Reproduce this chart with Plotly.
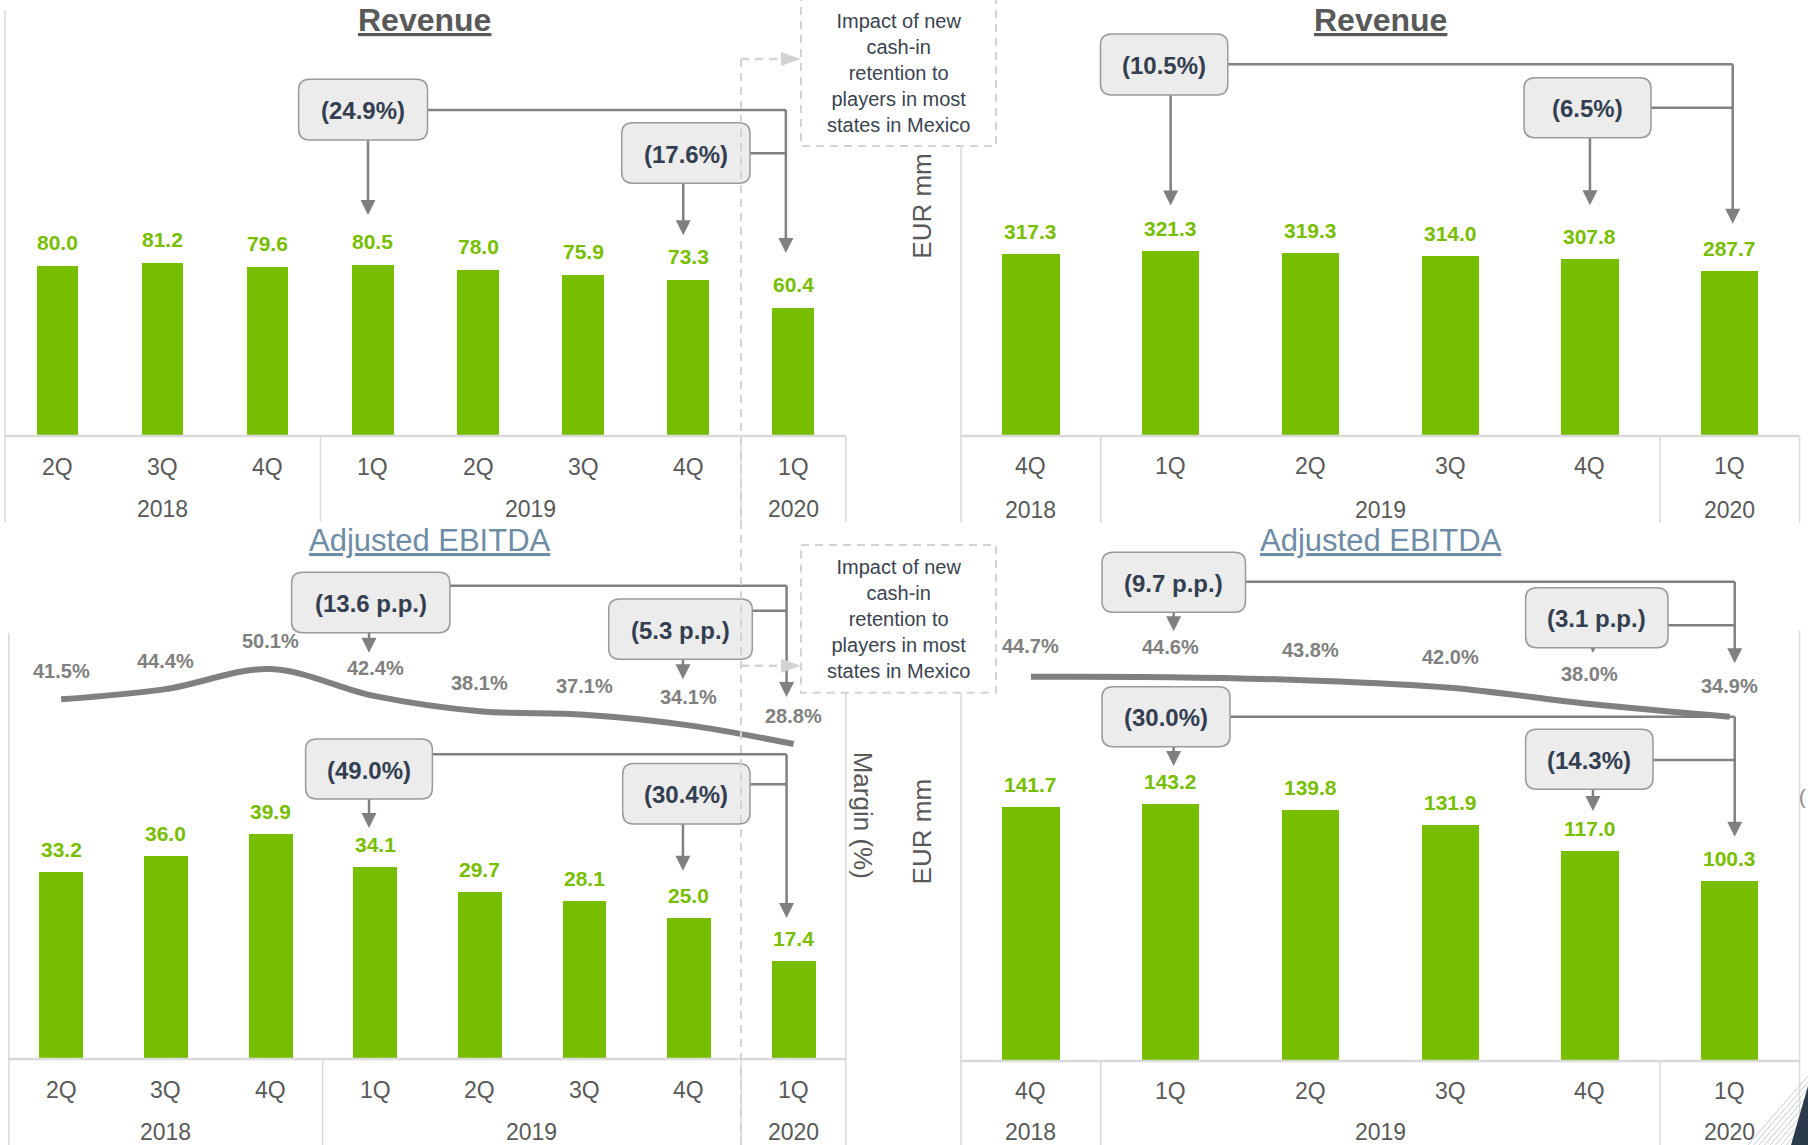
import plotly.graph_objects as go

W, H = 1808, 1145
FONT = "Liberation Sans, Arial, Helvetica, sans-serif"
GREEN = "#78BE00"
GREY_LINE = "#808080"
LIGHT = "#D9D9D9"
DASHED = "#D3D3D3"
TEXT = "#595959"
BOX_TEXT = "#333F50"
NOTE_TEXT = "#3A4350"
TITLE_BLUE = "#6E8CA6"

# ---------------- data ----------------
q_labels = ["2Q", "3Q", "4Q", "1Q", "2Q", "3Q", "4Q", "1Q"]
q_years = [("2018", 0, 2), ("2019", 3, 6), ("2020", 7, 7)]
q_revenue = [80.0, 81.2, 79.6, 80.5, 78.0, 75.9, 73.3, 60.4]
q_ebitda = [33.2, 36.0, 39.9, 34.1, 29.7, 28.1, 25.0, 17.4]
q_margin = [41.5, 44.4, 50.1, 42.4, 38.1, 37.1, 34.1, 28.8]

ltm_labels = ["4Q", "1Q", "2Q", "3Q", "4Q", "1Q"]
ltm_years = [("2018", 0, 0), ("2019", 1, 4), ("2020", 5, 5)]
ltm_revenue = [317.3, 321.3, 319.3, 314.0, 307.8, 287.7]
ltm_ebitda = [141.7, 143.2, 139.8, 131.9, 117.0, 100.3]
ltm_margin = [44.7, 44.6, 43.8, 42.0, 38.0, 34.9]

q_revenue_change = ["(24.9%)", "(17.6%)"]
q_ebitda_change = ["(49.0%)", "(30.4%)"]
q_margin_change = ["(13.6 p.p.)", "(5.3 p.p.)"]
ltm_revenue_change = ["(10.5%)", "(6.5%)"]
ltm_ebitda_change = ["(30.0%)", "(14.3%)"]
ltm_margin_change = ["(9.7 p.p.)", "(3.1 p.p.)"]

note_text = "Impact of new<br>cash-in<br>retention to<br>players in most<br>states in Mexico"


def PX(x):
    return x / W


def PY(y):
    return 1 - y / H


# ---------------- panel geometry (pixels) ----------------
class Panel:
    def __init__(self, xa, ya, left, right, base, top, ymax, n, mrange=None, ma=None, dx=0):
        self.xa, self.ya = xa, ya
        self.left, self.right, self.base, self.top = left, right, base, top
        self.ymax, self.n, self.mrange, self.ma, self.dx = ymax, n, mrange, ma, dx

    def x(self, i):
        return self.left + (i + 0.5) * (self.right - self.left) / self.n

    def edge(self, b):
        return self.left + b * (self.right - self.left) / self.n

    def y(self, v):
        return self.base - v * (self.base - self.top) / self.ymax

    def ym(self, m):
        lo, hi = self.mrange
        return self.base - (m - lo) * (self.base - self.top) / (hi - lo)


TL = Panel("x", "y", 5.15, 845.9, 436, 0, 205.2, 8, dx=-5)
TR = Panel("x2", "y2", 961, 1799.6, 436, 0, 758.8, 6, dx=0)
BL = Panel("x3", "y3", 8.8, 845.9, 1059, 525, 94.85, 8, mrange=(-60.68, 91.02), ma="y5", dx=-6)
BR = Panel("x4", "y4", 961, 1799.6, 1061, 525, 299.1, 6, mrange=(-49.49, 81.89), ma="y6", dx=3)

fig = go.Figure()
shapes = []
annotations = []


def line(x0, y0, x1, y1, color=LIGHT, width=1.5, dash=None):
    d = dict(type="line", xref="paper", yref="paper", x0=PX(x0), y0=PY(y0), x1=PX(x1), y1=PY(y1),
             line=dict(color=color, width=width))
    if dash:
        d["line"]["dash"] = dash
    shapes.append(d)


def poly(points, color):
    path = "M " + " L ".join("{:.5f},{:.5f}".format(PX(x), PY(y)) for x, y in points) + " Z"
    shapes.append(dict(type="path", xref="paper", yref="paper", path=path,
                       fillcolor=color, line=dict(width=0)))


def tri_down(x, y, w=15, h=15, color=GREY_LINE):
    poly([(x, y), (x - w / 2, y - h), (x + w / 2, y - h)], color)


def tri_right(x, y, w=14, h=20, color=DASHED):
    poly([(x, y), (x - h, y - w / 2), (x - h, y + w / 2)], color)


def rrect(l, t, r, b, rad=11):
    def P(x, y):
        return "{:.5f},{:.5f}".format(PX(x), PY(y))
    path = ("M " + P(l + rad, t) + " L " + P(r - rad, t) + " Q " + P(r, t) + " " + P(r, t + rad) +
            " L " + P(r, b - rad) + " Q " + P(r, b) + " " + P(r - rad, b) +
            " L " + P(l + rad, b) + " Q " + P(l, b) + " " + P(l, b - rad) +
            " L " + P(l, t + rad) + " Q " + P(l, t) + " " + P(l + rad, t) + " Z")
    return dict(type="path", xref="paper", yref="paper", path=path,
                fillcolor="#ECECEC", line=dict(color="#9A9A9A", width=1.5))


def text(x, y, s, size, color, bold=False, angle=0, xanchor="center"):
    annotations.append(dict(x=PX(x), y=PY(y), xref="paper", yref="paper", text=("<b>%s</b>" % s) if bold else s,
                            showarrow=False, xanchor=xanchor, yanchor="middle", textangle=angle,
                            font=dict(family=FONT, size=size, color=color)))


# ---------------- bar traces ----------------
def add_bars(p, values, width):
    fig.add_trace(go.Bar(x=list(range(len(values))), y=values, xaxis=p.xa, yaxis=p.ya, width=width,
                         marker=dict(color=GREEN, line=dict(width=0)), hoverinfo="skip"))
    for i, v in enumerate(values):
        annotations.append(dict(x=i, y=v, xref=p.xa, yref=p.ya, text="<b>%.1f</b>" % v, showarrow=False,
                                yanchor="middle", yshift=23.5 if p is TL else 22.5,
                                font=dict(family=FONT, size=21, color=GREEN)))


add_bars(TL, q_revenue, 0.395)
add_bars(TR, ltm_revenue, 0.41)
add_bars(BL, q_ebitda, 0.42)
add_bars(BR, ltm_ebitda, 0.41)


def add_margin(p, values, shift):
    fig.add_trace(go.Scatter(x=list(range(len(values))), y=values, xaxis=p.xa, yaxis=p.ma, mode="lines",
                             line=dict(shape="spline", smoothing=1.0, width=6, color=GREY_LINE),
                             hoverinfo="skip"))
    for i, m in enumerate(values):
        annotations.append(dict(x=i, y=m, xref=p.xa, yref=p.ma, text="<b>%.1f%%</b>" % m, showarrow=False,
                                yanchor="middle", yshift=shift,
                                font=dict(family=FONT, size=20, color=GREY_LINE)))


add_margin(BL, q_margin, 28.5)
add_margin(BR, ltm_margin, 30.5)


# ---------------- category axis labels & frame ----------------
def add_axis(p, labels, years, qy, yy, axis_y, left_top, right_top):
    for i, s in enumerate(labels):
        annotations.append(dict(x=i, y=PY(qy), xref=p.xa, yref="paper", text=s, showarrow=False,
                                yanchor="middle", font=dict(family=FONT, size=23, color=TEXT)))
    for s, a, b in years:
        annotations.append(dict(x=(a + b) / 2, y=PY(yy), xref=p.xa, yref="paper", text=s, showarrow=False,
                                yanchor="middle", font=dict(family=FONT, size=23, color=TEXT)))
    line(p.left, axis_y, p.right, axis_y, width=2.5)
    bottom = yy + 13 if axis_y < 600 else H
    for k, (s, a, b) in enumerate(years):
        if k > 0:
            line(p.edge(a), axis_y, p.edge(a), bottom)
    line(p.left, left_top, p.left, bottom)
    line(p.right, right_top, p.right, bottom)


add_axis(TL, q_labels, q_years, 466.5, 509, 436, 10, 436)
add_axis(TR, ltm_labels, ltm_years, 466, 509.5, 436, 146, 436)
add_axis(BL, q_labels, q_years, 1090, 1131.5, 1059, 633, 692.7)
add_axis(BR, ltm_labels, ltm_years, 1091, 1131.5, 1061, 692.7, 630)


# ---------------- change callouts ----------------
def add_callouts(p, labels, values, use_margin, boxes, rows, gaps, final_gap, bdx, targets):
    ymap = p.ym if use_margin else p.y
    last = len(values) - 1
    # bracket to the latest quarter
    bx = p.x(last) + bdx
    tip_last = ymap(values[last]) - final_gap
    for (l, t, r, b), ry in zip(boxes, rows):
        line(r, ry, bx, ry, color=GREY_LINE, width=2.5)
    line(bx, min(rows), bx, tip_last - 14, color=GREY_LINE, width=2.5)
    tri_down(bx, tip_last)
    # direct arrows from each box
    for (l, t, r, b), tgt, g in zip(boxes, targets, gaps):
        ax = p.x(tgt) + p.dx
        tp = ymap(values[tgt]) - g
        if tp - 14 > b:
            line(ax, b, ax, tp - 14, color=GREY_LINE, width=2.5)
        tri_down(ax, tp)
    for (l, t, r, b), s in zip(boxes, labels):
        shapes.append(rrect(l, t, r, b))
        text((l + r) / 2, (t + b) / 2 + 1, s, 24, BOX_TEXT, bold=True)


add_callouts(TL, q_revenue_change, q_revenue, False,
             [(298.6, 79.3, 427.5, 140.0), (621.7, 122.7, 750.0, 183.3)], [110, 153.3],
             [50, 45], 54.7, -7.5, [3, 6])
add_callouts(TR, ltm_revenue_change, ltm_revenue, False,
             [(1100.5, 34, 1227.8, 95), (1524, 77.7, 1651, 137.7)], [64.3, 107.7],
             [46, 54], 47, 3, [1, 4])
add_callouts(BL, q_margin_change, q_margin, True,
             [(291.6, 572.3, 449.9, 632.7), (608.7, 599, 752.3, 659.3)], [585.7, 610.7],
             [43.5, 46], 47, -7, [3, 6])
add_callouts(BL, q_ebitda_change, q_ebitda, False,
             [(305.6, 739, 432.4, 799), (622.7, 763.5, 750, 824)], [754.3, 784.3],
             [39, 47.6], 43, -7, [3, 6])
add_callouts(BR, ltm_margin_change, ltm_margin, True,
             [(1102, 552.3, 1245.5, 612.3), (1525.6, 587.7, 1668, 647.7)], [581.7, 625.3],
             [46, 51], 53.4, 5, [1, 4])
add_callouts(BR, ltm_ebitda_change, ltm_ebitda, False,
             [(1102, 686.7, 1230, 746.7), (1525.6, 729.3, 1653, 789.3)], [716.7, 760],
             [38.4, 40.3], 44.6, 5, [1, 4])

# ---------------- note boxes (dashed) ----------------
DASH = "8px,6px"
line(741, 59, 741, H, color=DASHED, width=2, dash=DASH)
for (t, b, ay) in [(-5, 146, 59), (545, 692.7, 665.7)]:
    shapes.append(dict(type="rect", xref="paper", yref="paper", x0=PX(801), x1=PX(996), y0=PY(t), y1=PY(b),
                       line=dict(color=DASHED, width=2, dash=DASH), fillcolor="rgba(0,0,0,0)"))
    line(741, ay, 782, ay, color=DASHED, width=2.5, dash=DASH)
    tri_right(801, ay)
    text(898.5, (t + b) / 2 + (0 if t > 0 else 2.5), note_text, 20, NOTE_TEXT)

# ---------------- titles & axis titles ----------------
text(TL.left + (TL.right - TL.left) / 2 - 1, 19.6, "<u>Revenue</u>", 32, TEXT, bold=True)
text(TR.left + (TR.right - TR.left) / 2, 19.6, "<u>Revenue</u>", 32, TEXT, bold=True)
text(430, 540.8, "<u>Adjusted EBITDA</u>", 31, TITLE_BLUE)
text(1381.4, 540.8, "<u>Adjusted EBITDA</u>", 31, TITLE_BLUE)
text(921.7, 206, "EUR mm", 26, TEXT, angle=-90)
text(921.7, 831.7, "EUR mm", 26, TEXT, angle=-90)
text(863.3, 815, "Margin (%)", 26, TEXT, angle=90)
text(1808, 797, "(", 20, "#8A8A8A", xanchor="right")

# ---------------- page corner ornament ----------------
for k in range(9):
    x0 = 1748 + 5.5 * k
    line(x0, H, W, H - (W - x0) * 1.15, color="#C9CDD2", width=1)
poly([(1791, H), (W, H), (W, 1086)], "#2B3A4A")

# ---------------- axes ----------------
hidden = dict(visible=False, fixedrange=True)
layout_axes = {}
for p in (TL, TR, BL, BR):
    xk = "xaxis" + p.xa[1:]
    yk = "yaxis" + p.ya[1:]
    layout_axes[xk] = dict(hidden, domain=[PX(p.left), PX(p.right)], range=[-0.5, p.n - 0.5], anchor=p.ya)
    layout_axes[yk] = dict(hidden, domain=[PY(p.base), PY(p.top)], range=[0, p.ymax], anchor=p.xa)
    if p.ma:
        layout_axes["yaxis" + p.ma[1:]] = dict(hidden, overlaying=p.ya, anchor=p.xa, range=list(p.mrange))

fig.update_layout(
    width=W, height=H, margin=dict(l=0, r=0, t=0, b=0),
    paper_bgcolor="white", plot_bgcolor="rgba(0,0,0,0)",
    showlegend=False, shapes=shapes, annotations=annotations, bargap=0,
    **layout_axes,
)

fig.write_html("out.html")
